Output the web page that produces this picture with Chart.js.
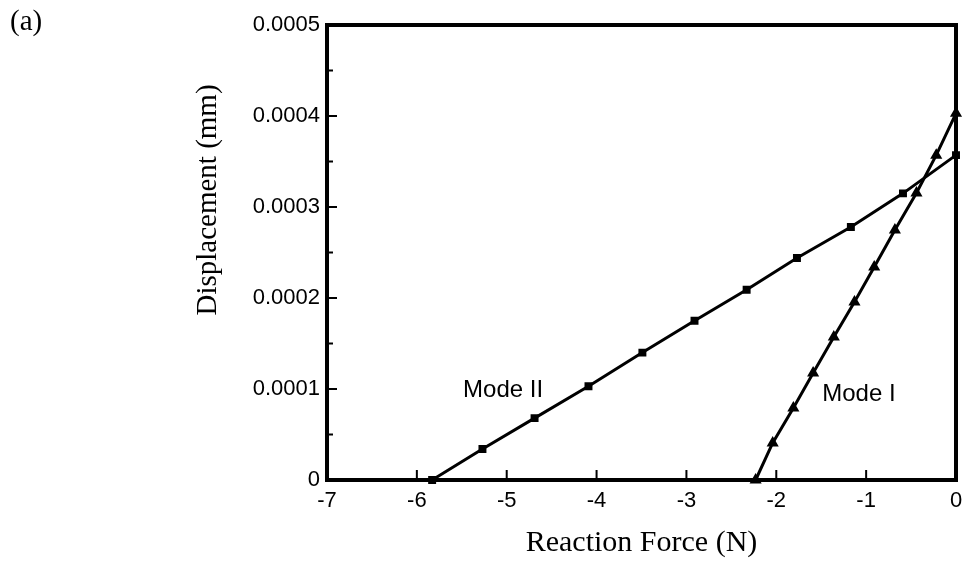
<!DOCTYPE html>
<html>
<head>
<meta charset="utf-8">
<script src="https://cdn.jsdelivr.net/npm/chart.js@4.4.1/dist/chart.umd.min.js"></script>
<style>
    html, body { margin: 0; padding: 0; background: #fff; }
    #wrap { width: 963px; height: 567px; position: relative; }
</style>
</head>
<body>
<div id="wrap"><canvas id="chart" width="963" height="567"></canvas></div>
<script>
// Data
const modeIForce = [-2.23, -2.04, -1.81, -1.59, -1.36, -1.13, -0.91, -0.68, -0.44, -0.22, 0];
const modeIDisp = [0, 0.0000407, 0.0000791, 0.0001176, 0.0001571, 0.0001956, 0.000234, 0.0002747, 0.0003154, 0.000357, 0.000403];
const modeIIForce = [-5.83, -5.27, -4.69, -4.09, -3.49, -2.91, -2.33, -1.77, -1.17, -0.59, 0];
const modeIIDisp = [0, 0.000034, 0.000068, 0.000103, 0.00014, 0.000175, 0.000209, 0.000244, 0.000278, 0.000315, 0.000357];
const xTickValues = [-7, -6, -5, -4, -3, -2, -1, 0];
const yTickValues = [0, 0.0001, 0.0002, 0.0003, 0.0004, 0.0005];
const yMinorTicks = [0.00005, 0.00015, 0.00025, 0.00035, 0.00045];
const seriesLabels = ['Mode I', 'Mode II'];

const toPoints = (xs, ys) => xs.map((x, i) => ({ x: x, y: ys[i] }));

const sansFont = "'Liberation Sans', Arial, sans-serif";
const serifFont = "'Liberation Serif', 'Times New Roman', serif";

// Frame, inward ticks, annotations and the left title
const decorations = {
    id: 'decorations',
    afterDraw(chart) {
        const { ctx, chartArea: a, scales } = chart;
        const xs = scales.x, ys = scales.y;
        ctx.save();
        ctx.strokeStyle = '#000';

        // inward ticks
        ctx.lineWidth = 2;
        ctx.beginPath();
        xTickValues.slice(1, -1).forEach(v => {
            const px = xs.getPixelForValue(v);
            ctx.moveTo(px, a.bottom);
            ctx.lineTo(px, a.bottom - 10);
        });
        yTickValues.slice(1, -1).forEach(v => {
            const py = ys.getPixelForValue(v);
            ctx.moveTo(a.left, py);
            ctx.lineTo(a.left + 10, py);
        });
        yMinorTicks.forEach(v => {
            const py = ys.getPixelForValue(v);
            ctx.moveTo(a.left, py);
            ctx.lineTo(a.left + 6, py);
        });
        ctx.stroke();

        // frame
        ctx.lineWidth = 4;
        ctx.strokeRect(a.left, a.top, a.right - a.left, a.bottom - a.top);

        // series labels
        ctx.fillStyle = '#000';
        ctx.font = '24px ' + sansFont;
        ctx.textAlign = 'center';
        ctx.textBaseline = 'middle';
        ctx.fillText(seriesLabels[1], xs.getPixelForValue(-5.04), ys.getPixelForValue(0.0000989));
        ctx.fillText(seriesLabels[0], xs.getPixelForValue(-1.08), ys.getPixelForValue(0.0000945));

        // y axis title
        ctx.font = '29px ' + serifFont;
        ctx.translate(208, 200);
        ctx.rotate(-Math.PI / 2);
        ctx.fillText('Displacement (mm)', 0, 0);
        ctx.restore();

        // panel letter
        ctx.save();
        ctx.fillStyle = '#000';
        ctx.font = '29px ' + serifFont;
        ctx.textAlign = 'left';
        ctx.textBaseline = 'middle';
        ctx.fillText('(a)', 10, 22);
        ctx.restore();
    }
};

const ctx = document.getElementById('chart').getContext('2d');

new Chart(ctx, {
    type: 'scatter',
    data: {
        datasets: [
            {
                label: seriesLabels[0],
                data: toPoints(modeIForce, modeIDisp),
                showLine: true,
                borderColor: '#000',
                backgroundColor: '#000',
                borderWidth: 3,
                pointStyle: 'triangle',
                pointRadius: 4,
                clip: false
            },
            {
                label: seriesLabels[1],
                data: toPoints(modeIIForce, modeIIDisp),
                showLine: true,
                borderColor: '#000',
                backgroundColor: '#000',
                borderWidth: 3,
                pointStyle: 'rect',
                pointRadius: 3.5,
                clip: false
            }
        ]
    },
    options: {
        responsive: false,
        animation: false,
        layout: { padding: { left: 0, top: 25, right: 6, bottom: 0 } },
        plugins: {
            legend: { display: false },
            tooltip: { enabled: false }
        },
        scales: {
            x: {
                type: 'linear',
                min: -7,
                max: 0,
                afterFit: s => { s.height = 87; s.paddingLeft = 0; s.paddingRight = 0; },
                afterBuildTicks: s => { s.ticks = xTickValues.map(v => ({ value: v })); },
                grid: { display: false, drawTicks: false },
                border: { display: false },
                ticks: {
                    color: '#000',
                    padding: 8,
                    font: { family: sansFont, size: 22 }
                },
                title: {
                    display: true,
                    text: 'Reaction Force (N)',
                    color: '#000',
                    font: { family: serifFont, size: 30 },
                    padding: { top: 0, bottom: 6 }
                }
            },
            y: {
                type: 'linear',
                min: 0,
                max: 0.0005,
                afterFit: s => { s.width = 327; s.paddingTop = 0; s.paddingBottom = 0; },
                afterBuildTicks: s => { s.ticks = yTickValues.map(v => ({ value: v })); },
                grid: { display: false, drawTicks: false },
                border: { display: false },
                ticks: {
                    color: '#000',
                    padding: 7,
                    font: { family: sansFont, size: 22 },
                    callback: v => v === 0 ? '0' : v.toFixed(4)
                }
            }
        }
    },
    plugins: [decorations]
});
</script>
</body>
</html>
